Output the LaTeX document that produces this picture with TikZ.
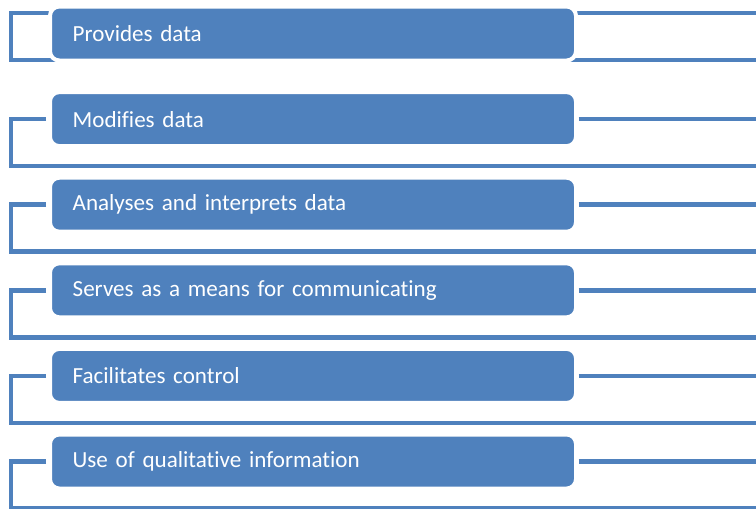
\documentclass[tikz,border=0pt]{standalone}
\usepackage{fontspec}
\setmainfont[Ligatures=NoCommon]{Carlito}
\usetikzlibrary{backgrounds}
\definecolor{accent}{HTML}{4F81BD}
\tikzset{
	itembox/.style={rectangle, rounded corners=7pt, fill=accent, draw=white, line width=3pt,
		text=white, font=\fontsize{17.3}{20}\selectfont, anchor=west, align=left, outer sep=0pt,
		text width=360.5pt, inner xsep=17pt, minimum height=40.5pt},
	frame/.style={draw=accent, line width=3.4pt}
}
\begin{document}
\begin{tikzpicture}[x=0.75pt, y=-0.75pt]
	\useasboundingbox (0,0) rectangle (756,508);
	\clip (0,0) rectangle (756,508);
	
	\foreach \t [count=\i from 0] in {Provides data, Modifies data, Analyses and interprets data,
		Serves as a means for communicating, Facilitates control, Use of qualitative information}{
		\pgfmathsetmacro{\yc}{33.5 + 85.6*\i}
		\node[itembox] (r\i) at (50,\yc) {\t};
	};
	
	\begin{scope}[on background layer]
		\draw[frame] (11,13) rectangle (780,60);
		\foreach \i in {1,2,...,5}{
			\pgfmathsetmacro{\yc}{33.5 + 85.6*\i}
			\draw[frame] ([xshift=-3pt]r\i.west) -- (11,\yc) -- (11,{\yc+47}) -- (780,{\yc+47});
			\draw[frame] ([xshift=2pt]r\i.east) -- (780,\yc);
		};
	\end{scope}
	
\end{tikzpicture}
\end{document}
